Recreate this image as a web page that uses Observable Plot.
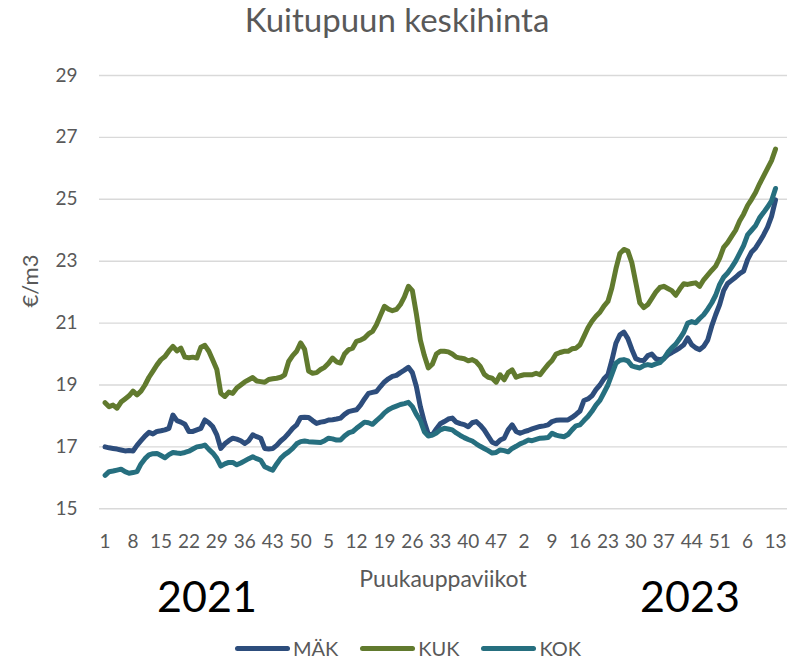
<!DOCTYPE html>
<html><head><meta charset="utf-8">
<script src="https://cdn.jsdelivr.net/npm/d3@7"></script>
<script src="https://cdn.jsdelivr.net/npm/@observablehq/plot@0.6"></script>
<style>
html,body{margin:0;padding:0;background:#fff;}
#wrap{position:relative;width:794px;height:659px;overflow:hidden;font-family:Lato,sans-serif;}
#wrap svg{position:absolute;left:0;top:0;}
.t{position:absolute;white-space:nowrap;}
#title{left:0;width:794px;top:-1px;text-align:center;font-size:33px;color:#595959;}
#ylab{left:29px;top:281px;font-size:22px;color:#595959;transform:translate(-50%,-50%) rotate(-90deg);}
#xlab{left:443px;top:578px;font-size:23px;color:#595959;transform:translate(-50%,-50%);}
.yr{font-size:43px;color:#000;transform:translate(-50%,-50%);top:595px;}
#legend{position:absolute;top:636px;left:0;width:816px;display:flex;justify-content:center;gap:22px;font-size:20px;color:#595959;}
.li{display:flex;align-items:center;gap:3px;}
.sw{width:55px;height:5px;border-radius:3px;}
</style></head>
<body><div id="wrap">
<div id="title" class="t">Kuitupuun keskihinta</div>
<div id="ylab" class="t">€/m3</div>
<div id="xlab" class="t">Puukauppaviikot</div>
<div class="t yr" style="left:207px">2021</div>
<div class="t yr" style="left:690px">2023</div>
<div id="legend"></div>
</div>
<script>
const seriesNames = ["MÄK", "KUK", "KOK"];
const seriesColors = ["#2d4d7c", "#617a2e", "#266f7f"];
const weekLabels = ["1","8","15","22","29","36","43","50","5","12","19","26","33","40","47","2","9","16","23","30","37","44","51","6","13"];
const yTicks = [15,17,19,21,23,25,27,29];

const mak = [17.00,16.97,16.95,16.93,16.90,16.87,16.88,16.87,17.05,17.20,
17.35,17.47,17.42,17.50,17.52,17.55,17.60,18.03,17.85,17.80,
17.73,17.50,17.50,17.55,17.60,17.87,17.78,17.65,17.39,16.95,
17.10,17.20,17.28,17.25,17.20,17.11,17.20,17.39,17.33,17.28,
16.95,16.93,16.95,17.05,17.19,17.30,17.44,17.60,17.71,17.95,
17.96,17.95,17.85,17.76,17.80,17.82,17.87,17.88,17.90,17.93,
18.05,18.14,18.17,18.20,18.35,18.55,18.73,18.76,18.79,18.95,
19.10,19.20,19.28,19.31,19.40,19.48,19.57,19.40,18.95,18.30,
17.80,17.41,17.39,17.58,17.75,17.82,17.90,17.93,17.80,17.75,
17.72,17.65,17.78,17.82,17.70,17.55,17.35,17.15,17.10,17.22,
17.28,17.55,17.71,17.50,17.44,17.49,17.53,17.58,17.62,17.66,
17.68,17.71,17.82,17.86,17.87,17.87,17.87,17.95,18.05,18.16,
18.50,18.55,18.65,18.85,19.00,19.20,19.33,19.80,20.35,20.62,
20.71,20.50,20.15,19.85,19.80,19.79,19.95,20.00,19.85,19.82,
19.85,19.97,20.05,20.12,20.20,20.30,20.52,20.30,20.20,20.14,
20.25,20.45,20.90,21.27,21.60,22.05,22.28,22.38,22.48,22.60,
22.68,23.05,23.30,23.43,23.63,23.85,24.10,24.45,24.98];

const kuk = [18.43,18.30,18.35,18.25,18.45,18.55,18.65,18.80,18.68,18.80,
19.00,19.25,19.45,19.65,19.82,19.92,20.10,20.25,20.10,20.19,
19.90,19.88,19.90,19.87,20.22,20.28,20.09,19.80,19.50,18.73,
18.63,18.77,18.73,18.90,19.00,19.10,19.17,19.24,19.13,19.11,
19.09,19.18,19.20,19.22,19.25,19.33,19.76,19.95,20.09,20.36,
20.15,19.45,19.38,19.40,19.50,19.57,19.70,19.87,19.75,19.71,
20.00,20.14,20.19,20.41,20.45,20.52,20.65,20.73,20.95,21.25,
21.54,21.45,21.40,21.44,21.60,21.85,22.19,22.05,21.30,20.45,
19.95,19.55,19.67,20.00,20.09,20.09,20.07,20.00,19.90,19.87,
19.85,19.78,19.82,19.75,19.60,19.35,19.25,19.22,19.09,19.33,
19.17,19.40,19.49,19.25,19.30,19.33,19.33,19.33,19.38,19.33,
19.50,19.66,19.79,20.00,20.05,20.09,20.09,20.17,20.19,20.30,
20.57,20.85,21.06,21.22,21.35,21.55,21.70,22.14,22.75,23.25,
23.38,23.33,22.95,22.30,21.65,21.50,21.60,21.80,22.00,22.15,
22.19,22.12,22.05,21.90,22.10,22.27,22.25,22.28,22.30,22.19,
22.40,22.55,22.70,22.84,23.10,23.45,23.60,23.80,24.00,24.30,
24.52,24.80,25.00,25.22,25.50,25.75,26.00,26.25,26.62];

const kok = [16.08,16.20,16.22,16.25,16.28,16.20,16.15,16.17,16.20,16.45,
16.62,16.74,16.78,16.79,16.72,16.65,16.75,16.82,16.80,16.79,
16.82,16.86,16.93,17.00,17.02,17.06,16.92,16.80,16.63,16.38,
16.45,16.50,16.50,16.42,16.48,16.55,16.62,16.68,16.62,16.57,
16.36,16.30,16.25,16.45,16.63,16.75,16.84,16.95,17.10,17.17,
17.19,17.17,17.16,17.15,17.14,17.20,17.28,17.26,17.22,17.22,
17.35,17.45,17.49,17.60,17.70,17.80,17.78,17.73,17.85,17.96,
18.10,18.20,18.27,18.32,18.37,18.40,18.44,18.30,18.05,17.85,
17.49,17.35,17.38,17.45,17.55,17.60,17.58,17.55,17.45,17.37,
17.30,17.24,17.19,17.10,17.02,16.95,16.88,16.80,16.82,16.90,
16.88,16.84,16.95,17.02,17.10,17.15,17.22,17.20,17.24,17.28,
17.29,17.30,17.44,17.38,17.35,17.33,17.40,17.55,17.68,17.71,
17.85,17.98,18.15,18.35,18.50,18.75,19.00,19.35,19.70,19.80,
19.82,19.78,19.62,19.58,19.55,19.63,19.66,19.63,19.68,19.72,
19.85,20.05,20.20,20.32,20.50,20.70,21.00,21.05,21.01,21.15,
21.27,21.45,21.65,21.90,22.25,22.48,22.62,22.80,23.00,23.25,
23.50,23.85,24.00,24.15,24.40,24.57,24.75,24.95,25.35];

const seriesValues = [mak, kuk, kok];
const rows = seriesNames.flatMap((s, k) => seriesValues[k].map((v, i) => ({series: s, i, v})));
const tickIdx = weekLabels.map((_, j) => j * 7);

const chart = Plot.plot({
  width: 794, height: 560,
  marginLeft: 99, marginRight: 7, marginTop: 75, marginBottom: 51.7,
  x: {type: "linear", domain: [-1.4, 171], axis: null},
  y: {domain: [15, 29], axis: null},
  color: {domain: seriesNames, range: seriesColors},
  style: {fontFamily: "Lato, sans-serif", fontSize: "19px", color: "#595959", background: "transparent", overflow: "visible"},
  marks: [
    Plot.gridY(yTicks, {stroke: "#d9d9d9", strokeOpacity: 1, strokeWidth: 1.4}),
    Plot.axisY(yTicks, {tickSize: 0, tickPadding: 22, label: null, fill: "#595959"}),
    Plot.axisX(tickIdx, {tickSize: 0, tickPadding: 26, label: null, fill: "#595959",
      tickFormat: d => weekLabels[d / 7]}),
    Plot.line(rows, {x: "i", y: "v", z: "series", stroke: "series", strokeWidth: 5,
      strokeLinejoin: "round", strokeLinecap: "round"})
  ]
});
document.getElementById("wrap").prepend(chart);

const legend = document.getElementById("legend");
seriesNames.forEach((s, k) => {
  const it = document.createElement("div"); it.className = "li";
  const sw = document.createElement("div"); sw.className = "sw"; sw.style.background = seriesColors[k];
  const tx = document.createElement("span"); tx.textContent = s;
  it.append(sw, tx); legend.append(it);
});
</script>
</body></html>
